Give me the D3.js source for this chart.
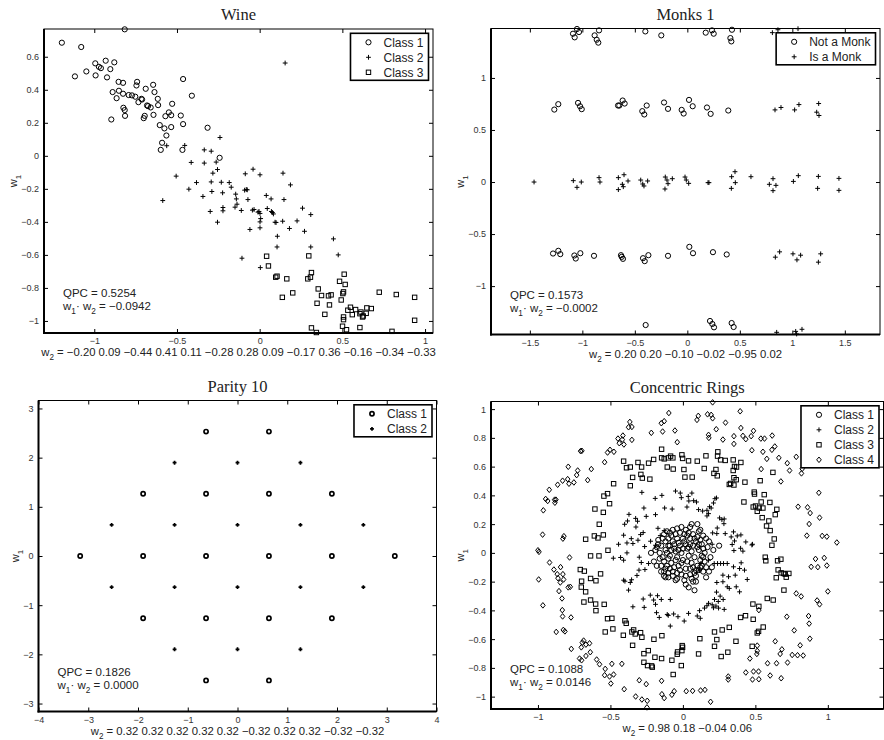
<!DOCTYPE html>
<html lang="en">
<head>
<meta charset="utf-8">
<title>Projection scatter panels</title>
<script src="https://d3js.org/d3.v7.min.js"></script>
<style>
  body { margin: 0; background: #fff; }
</style>
</head>
<body>
<svg id="fig" width="884" height="740"></svg>
<script>
// ---------- Wine ----------
var wineClass1 = [[-1.196,0.685],[-1.079,0.659],[-0.816,0.766],[-1.117,0.481],[-1.048,0.511],[-0.994,0.560],[-0.992,0.487],[-0.972,0.539],[-0.960,0.531],[-0.931,0.576],[-0.923,0.475],[-0.903,0.525],[-0.879,0.566],[-0.897,0.220],[-0.889,0.386],[-0.865,0.349],[-0.853,0.448],[-0.851,0.394],[-0.826,0.442],[-0.826,0.376],[-0.824,0.291],[-0.816,0.277],[-0.814,0.242],[-0.792,0.368],[-0.772,0.366],[-0.752,0.358],[-0.741,0.448],[-0.745,0.426],[-0.733,0.325],[-0.715,0.345],[-0.711,0.341],[-0.701,0.228],[-0.695,0.242],[-0.689,0.406],[-0.681,0.305],[-0.675,0.301],[-0.659,0.293],[-0.644,0.430],[-0.636,0.386],[-0.642,0.248],[-0.616,0.345],[-0.614,0.307],[-0.604,0.186],[-0.590,0.079],[-0.598,0.036],[-0.576,0.166],[-0.570,0.240],[-0.564,0.123],[-0.549,0.263],[-0.535,0.246],[-0.535,0.174],[-0.529,0.315],[-0.477,0.244],[-0.467,0.036],[-0.463,0.465],[-0.463,0.192],[-0.410,0.364],[-0.315,0.170],[-0.242,-0.012]];
var wineClass2 = [[0.154,0.562],[-0.240,0.111],[-0.562,0.061],[-0.453,0.063],[-0.335,0.036],[-0.293,0.028],[-0.505,-0.123],[-0.414,-0.040],[-0.335,-0.044],[-0.263,-0.038],[-0.255,-0.083],[-0.283,-0.105],[-0.428,-0.202],[-0.382,-0.162],[-0.343,-0.246],[-0.299,-0.337],[-0.293,-0.158],[-0.289,-0.216],[-0.255,-0.402],[-0.232,-0.160],[-0.224,-0.224],[-0.222,-0.313],[-0.222,-0.333],[-0.184,-0.162],[-0.172,-0.190],[-0.586,-0.271],[-0.149,-0.311],[-0.145,-0.232],[-0.141,-0.261],[-0.137,-0.293],[-0.111,-0.331],[-0.107,-0.620],[-0.087,-0.109],[-0.081,-0.204],[-0.075,-0.206],[-0.071,-0.265],[-0.059,-0.446],[-0.040,-0.081],[-0.044,-0.329],[-0.010,-0.341],[0.002,-0.115],[0.002,-0.349],[0.006,-0.380],[0.002,-0.400],[0.002,-0.436],[0.004,-0.677],[0.040,-0.240],[0.046,-0.319],[0.069,-0.261],[0.071,-0.337],[0.083,-0.352],[0.093,-0.402],[0.099,-0.404],[0.107,-0.487],[0.105,-0.552],[0.139,-0.396],[0.141,-0.105],[0.147,-0.265],[0.180,-0.440],[0.186,-0.176],[0.226,-0.394],[0.259,-0.317],[0.271,-0.457],[0.309,-0.356],[0.309,-0.552],[0.446,-0.503],[0.475,-0.600],[-0.004,-0.337],[-0.034,-0.325],[0.077,-0.343],[-0.091,-0.208]];
var wineClass3 = [[0.042,-0.608],[0.053,-0.667],[0.097,-0.735],[0.105,-0.729],[0.137,-0.857],[0.164,-0.745],[0.200,-0.830],[0.291,-0.745],[0.297,-0.606],[0.307,-0.735],[0.313,-0.707],[0.313,-1.042],[0.343,-1.070],[0.347,-0.893],[0.354,-0.806],[0.374,-0.846],[0.394,-0.960],[0.416,-0.848],[0.422,-0.903],[0.432,-0.842],[0.483,-0.760],[0.493,-0.873],[0.501,-1.032],[0.503,-0.834],[0.507,-0.824],[0.507,-0.976],[0.507,-0.992],[0.511,-0.717],[0.517,-0.779],[0.525,-1.053],[0.533,-0.935],[0.549,-0.917],[0.560,-0.962],[0.580,-0.931],[0.606,-0.956],[0.606,-1.040],[0.612,-0.946],[0.622,-0.976],[0.626,-0.970],[0.644,-0.954],[0.648,-0.921],[0.675,-0.925],[0.723,-0.826],[0.800,-1.063],[0.826,-0.840],[0.937,-0.996],[0.937,-0.857]];
var wineXTicks = [-1, -0.5, 0, 0.5, 1];
var wineYTicks = [-1, -0.8, -0.6, -0.4, -0.2, 0, 0.2, 0.4, 0.6];
var wineW2 = [-0.20, 0.09, -0.44, 0.41, 0.11, -0.28, 0.28, 0.09, -0.17, 0.36, -0.16, -0.34, -0.33];

// ---------- Monks 1 ----------
var monksNot = [[-1.051,1.470],[-1.089,1.425],[-1.073,1.390],[-1.032,1.441],[-0.883,1.409],[-0.863,1.367],[-0.848,1.339],[-0.841,1.457],[-0.400,1.447],[-0.248,1.409],[0.175,1.435],[0.235,1.457],[0.251,1.425],[0.410,1.383],[0.419,1.351],[0.425,1.463],
  [-1.267,0.696],[-1.229,0.748],[-1.041,0.760],[-1.022,0.728],[-1.006,0.700],[-0.660,0.735],[-0.648,0.735],[-0.616,0.783],[-0.597,0.754],[-0.429,0.681],[-0.410,0.649],[-0.387,0.735],[-0.222,0.764],[-0.184,0.703],[-0.054,0.693],[-0.035,0.658],[0.016,0.789],[0.051,0.728],[0.187,0.716],[0.222,0.655],[0.390,0.687],
  [-1.279,-0.687],[-1.229,-0.661],[-1.210,-0.693],[-1.076,-0.706],[-1.063,-0.735],[-1.019,-0.684],[-0.889,-0.709],[-0.632,-0.703],[-0.625,-0.719],[-0.613,-0.738],[-0.422,-0.732],[-0.406,-0.760],[-0.371,-0.703],[-0.184,-0.709],[0.019,-0.623],[0.054,-0.684],[0.244,-0.674],[0.375,-0.696],
  [-0.397,-1.374],[0.216,-1.335],[0.238,-1.364],[0.254,-1.396],[0.422,-1.355],[0.441,-1.393]];
var monksIs = [[0.810,1.435],[0.863,1.463],[1.054,1.473],
  [0.835,0.693],[0.892,0.716],[1.022,0.693],[1.063,0.744],[1.251,0.754],[1.232,0.671],[1.254,0.639],
  [-1.460,0],[-1.086,0.013],[-1.051,-0.051],[-1.010,0],[-0.841,0.042],[-0.832,0],[-0.657,0.042],[-0.657,-0.073],[-0.603,0.070],[-0.619,-0.022],[-0.610,-0.045],[-0.565,0.010],[-0.444,0.019],[-0.425,-0.019],[-0.413,-0.038],[-0.378,0.010],[-0.210,0.048],[-0.213,-0.067],[-0.194,0.019],[-0.184,-0.016],[-0.143,0.032],[-0.022,0.048],[-0.010,0.019],[0.013,-0.013],[0.197,-0.006],[0.206,-0.006],[0.422,0.051],[0.454,0.099],[0.419,-0.061],[0.457,-0.006],[0.606,0.051],[0.781,-0.022],[0.816,0.032],[0.844,-0.032],[0.816,-0.083],[1.010,0.006],[1.057,0.061],[1.248,0.054],[1.241,-0.061],[1.444,0.035],[1.444,-0.080],
  [0.838,-0.722],[0.879,-0.671],[1.006,-0.690],[1.044,-0.748],[1.079,-0.703],[1.248,-0.770],[1.270,-0.690],
  [0.851,-1.444],[1.032,-1.435],[1.041,-1.460],[1.092,-1.415]];
var monksXTicks = [-1.5, -1, -0.5, 0, 0.5, 1, 1.5];
var monksYTicks = [-1, -0.5, 0, 0.5, 1];
var monksW2 = [0.20, 0.20, -0.10, -0.02, -0.95, 0.02];

// ---------- Parity 10 ----------
var parityClass1 = [[-0.632,2.530],[0.632,2.530],[-1.897,1.265],[-0.632,1.265],[0.632,1.265],[1.897,1.265],[-3.162,0],[-1.897,0],[-0.632,0],[0.632,0],[1.897,0],[3.162,0],[-1.897,-1.265],[-0.632,-1.265],[0.632,-1.265],[1.897,-1.265],[-0.632,-2.530],[0.632,-2.530]];
var parityClass2 = [[-1.265,1.897],[0,1.897],[1.265,1.897],[-2.530,0.632],[-1.265,0.632],[0,0.632],[1.265,0.632],[2.530,0.632],[-2.530,-0.632],[-1.265,-0.632],[0,-0.632],[1.265,-0.632],[2.530,-0.632],[-1.265,-1.897],[0,-1.897],[1.265,-1.897]];
var parityXTicks = [-4, -3, -2, -1, 0, 1, 2, 3, 4];
var parityYTicks = [-3, -2, -1, 0, 1, 2, 3];
var parityW2 = [0.32, 0.32, 0.32, 0.32, 0.32, -0.32, 0.32, 0.32, -0.32, -0.32];

// ---------- Concentric Rings ----------
var ringsClass1 = [[-0.22,0.0],[-0.16,0.0],[-0.15,-0.13],[-0.13,-0.13],[-0.13,-0.16],[-0.12,-0.17],[-0.10,-0.17],[-0.05,-0.19],[-0.04,-0.18],[0.02,-0.22],[0.04,-0.24],[0.08,-0.26],[0.09,-0.20],[0.07,-0.20],[0.16,-0.17],[0.18,-0.13],[0.20,-0.10],[0.25,0.05],[0.14,0.12],[0.10,0.20],[0.06,0.20],[-0.01,0.18],[-0.04,0.17],[-0.07,0.16],[-0.11,0.15],[-0.13,0.13],[-0.17,0.09],[-0.18,0.04],[-0.19,0.02],
  [-0.12,0.08],[-0.10,0.10],[-0.08,0.12],[-0.05,0.13],[-0.02,0.14],[0.01,0.13],[0.04,0.14],[0.07,0.13],[0.10,0.11],[0.12,0.09],[0.13,0.06],[0.14,0.03],[0.15,0.0],[0.14,-0.03],[0.15,-0.06],[0.13,-0.09],[0.11,-0.12],[0.08,-0.14],[0.05,-0.15],[0.02,-0.16],[-0.01,-0.15],[-0.04,-0.14],[-0.07,-0.13],[-0.09,-0.11],[-0.11,-0.09],[-0.13,-0.06],[-0.14,-0.03],[-0.12,0.02],[-0.10,0.05],[-0.09,-0.02],[-0.07,0.08],[-0.06,0.03],[-0.05,-0.05],[-0.04,0.10],[-0.03,-0.09],[-0.02,0.05],[-0.01,0.0],[0.0,-0.05],[0.01,0.08],[0.02,-0.11],[0.03,0.03],[0.04,-0.02],[0.05,0.10],[0.06,-0.07],[0.07,0.05],[0.08,-0.03],[0.09,0.08],[0.10,-0.09],[0.11,0.02],[0.12,-0.05],[-0.08,-0.07],[-0.11,0.0],[0.0,0.10],[0.03,0.12],[-0.03,0.07],[0.06,0.01],[-0.06,-0.10],[0.09,-0.12],[-0.15,0.05],[0.17,0.04],[0.02,0.06],[-0.05,0.01],[0.05,-0.11],[0.10,0.04],[-0.10,-0.04],[0.13,-0.02],
  [-0.20,-0.06],[-0.18,-0.09],[-0.16,-0.04],[-0.17,0.06],[-0.14,0.10],[-0.09,0.14],[-0.06,0.06],[-0.03,0.02],[0.0,0.03],[0.03,-0.06],[0.05,0.06],[0.08,0.10],[0.11,0.06],[0.12,-0.10],[0.09,-0.16],[0.06,-0.18],[0.01,-0.19],[-0.02,-0.12],[-0.07,-0.16],[-0.10,-0.14],[-0.12,-0.11],[-0.08,0.02],[0.02,0.16],[0.16,-0.10],[0.18,0.08],[0.11,0.15],[-0.15,-0.09],[-0.01,-0.07],[0.07,-0.10],[0.04,0.04],[-0.04,-0.03],[0.14,-0.13],[0.19,-0.03],[0.21,0.02],[0.16,0.10],[0.12,0.16],[0.05,0.18],[-0.09,0.05]];
var ringsClass2 = [[-0.283,0.421],[-0.191,0.379],[-0.145,0.400],[-0.051,0.430],[-0.018,0.416],[-0.011,0.384],[0.037,0.393],[0.062,0.416],[0.041,0.361],[0.028,0.319],[0.074,0.363],[0.094,0.354],[0.108,0.301],[0.136,0.291],[0.166,0.296],[0.184,0.321],[0.221,0.377],[0.232,0.382],[0.211,0.347],[0.195,0.312],[0.177,0.273],[0.166,0.257],[-0.269,0.312],[-0.253,0.254],[-0.189,0.266],[-0.126,0.312],[-0.074,0.305],[-0.372,0.268],[-0.382,0.222],[-0.402,0.199],[-0.409,0.123],[-0.326,0.240],[-0.324,0.180],[-0.313,0.220],[-0.292,0.127],[-0.274,0.141],[-0.310,0.088],[-0.356,0.099],[-0.345,0.065],[-0.386,0.069],[-0.444,0.060],[-0.480,-0.037],[-0.430,-0.032],[-0.409,-0.051],[-0.386,0.0],[-0.301,-0.030],[-0.264,0.044],[-0.223,0.081],[-0.189,0.053],[-0.172,0.171],[-0.156,0.120],[-0.129,0.155],[-0.287,-0.067],[-0.237,-0.074],[-0.262,-0.116],[-0.303,-0.120],[-0.317,-0.157],[-0.354,-0.187],[-0.363,-0.206],[-0.375,-0.259],[-0.409,-0.190],[-0.400,-0.197],[-0.274,-0.321],[-0.225,-0.294],[-0.202,-0.328],[-0.175,-0.298],[-0.149,-0.324],[-0.087,-0.324],[-0.189,-0.358],[-0.267,-0.379],[-0.345,-0.375],[-0.182,-0.416],[-0.163,-0.449],[-0.108,-0.428],[-0.101,-0.435],[-0.087,-0.509],[-0.064,-0.425],[-0.034,-0.444],[0.009,-0.474],[0.039,-0.421],[0.099,-0.439],[0.120,-0.455],[0.115,-0.402],[0.149,-0.384],[0.166,-0.368],[0.177,-0.351],[0.202,-0.361],[0.211,-0.382],[0.228,-0.370],[0.246,-0.384],[0.218,-0.324],[0.244,-0.338],[0.257,-0.301],[0.278,-0.324],[0.285,-0.393],[0.232,-0.273],[0.306,-0.236],[0.320,-0.247],[0.368,-0.236],[0.391,-0.271],[0.391,-0.109],[0.349,-0.097],[0.361,-0.155],[0.402,-0.069],[0.425,-0.120],[0.414,0.012],[0.476,0.055],[0.434,0.076],[0.398,0.032],[0.352,0.016],[0.340,0.058],[0.356,0.083],[0.333,0.111],[0.375,0.118],[0.400,0.125],[0.349,0.146],[0.292,0.134],[0.285,0.236],[0.269,0.231],[0.253,0.243],[0.283,0.203],[0.237,0.173],[0.234,0.134],[0.205,0.139],[0.202,0.060],[0.216,-0.074],[0.239,-0.074],[0.260,-0.074],[0.280,-0.074],[0.306,-0.074],[0.234,-0.206],[0.276,-0.201],[0.315,-0.166],[0.276,-0.155],[0.444,-0.185],[0.480,0.060],[0.124,-0.074],[0.115,-0.120],[0.177,-0.051]];
var ringsClass3 = [[-0.147,0.721],[-0.147,0.661],[-0.129,0.654],[-0.101,0.661],[-0.085,0.673],[-0.069,0.661],[-0.007,0.682],[-0.002,0.657],[0.039,0.640],[0.099,0.638],[0.159,0.675],[0.241,0.703],[0.239,0.673],[0.260,0.647],[0.292,0.643],[0.347,0.647],[0.356,0.601],[0.370,0.597],[0.400,0.629],[0.347,0.573],[0.352,0.523],[0.368,0.509],[0.329,0.483],[0.320,0.476],[0.352,0.472],[0.228,0.580],[0.214,0.553],[0.237,0.536],[0.064,0.527],[0.014,0.527],[-0.067,0.583],[-0.108,0.597],[0.007,0.580],[0.147,0.587],[-0.202,0.650],[-0.237,0.624],[-0.285,0.597],[-0.310,0.629],[-0.363,0.597],[-0.389,0.592],[-0.409,0.638],[-0.347,0.525],[-0.290,0.546],[-0.280,0.520],[-0.228,0.513],[-0.363,0.467],[-0.478,0.481],[-0.545,0.395],[-0.520,0.412],[-0.506,0.342],[-0.549,0.282],[-0.607,0.305],[-0.577,0.199],[-0.611,0.118],[-0.586,0.104],[-0.549,0.125],[-0.671,0.095],[-0.517,0.018],[-0.579,-0.021],[-0.637,-0.021],[-0.708,-0.116],[-0.680,-0.127],[-0.699,-0.197],[-0.701,-0.238],[-0.637,-0.178],[-0.671,-0.271],[-0.683,-0.342],[-0.637,-0.328],[-0.600,-0.402],[-0.600,-0.194],[-0.568,-0.146],[-0.602,-0.356],[-0.543,-0.358],[-0.520,-0.458],[-0.490,-0.455],[-0.536,-0.550],[-0.483,-0.529],[-0.400,-0.472],[-0.411,-0.573],[-0.391,-0.490],[-0.352,-0.550],[-0.340,-0.536],[-0.347,-0.643],[-0.329,-0.564],[-0.292,-0.555],[-0.283,-0.587],[-0.200,-0.601],[-0.145,-0.576],[-0.239,-0.680],[-0.269,-0.701],[-0.193,-0.726],[-0.211,-0.795],[-0.269,-0.761],[-0.244,-0.784],[-0.216,-0.786],[-0.147,-0.735],[-0.076,-0.747],[-0.039,-0.705],[-0.037,-0.689],[-0.005,-0.645],[-0.002,-0.657],[-0.007,-0.680],[-0.067,-0.846],[-0.011,-0.784],[0.108,-0.703],[0.117,-0.597],[0.218,-0.550],[0.271,-0.536],[0.320,-0.518],[0.366,-0.615],[0.398,-0.449],[0.432,-0.437],[0.218,-0.650],[0.234,-0.603],[0.264,-0.721],[0.310,-0.691],[0.485,-0.462],[0.478,-0.650],[0.513,-0.557],[0.522,-0.546],[0.554,-0.516],[0.483,-0.356],[0.524,-0.372],[0.582,-0.317],[0.623,-0.328],[0.697,-0.259],[0.694,-0.143],[0.731,-0.143],[0.678,-0.139],[0.706,-0.148],[0.657,-0.118],[0.653,-0.055],[0.676,-0.044],[0.572,-0.055],[0.568,-0.030],[0.614,0.053],[0.630,0.097],[0.602,0.155],[0.577,0.187],[0.526,0.312],[0.513,0.289],[0.501,0.326],[0.552,0.312],[0.600,0.351],[0.648,0.303],[0.637,0.266],[0.547,0.245],[0.494,0.409],[0.561,0.405],[0.540,0.354],[0.492,0.423],[0.428,0.492],[0.421,0.354],[0.533,0.502],[0.621,0.560],[0.485,0.319],[0.593,0.222],[0.713,-0.169],[0.644,-0.173]];
var ringsClass4 = [[0.205,1.047],[-0.097,0.973],[0.106,0.953],[0.097,0.925],[0.170,0.964],[0.195,0.960],[0.205,0.936],[0.395,0.985],[0.294,0.906],[0.230,0.860],[0.352,0.812],[0.414,0.814],[0.434,0.791],[0.471,0.812],[0.400,0.869],[0.487,0.849],[0.538,0.795],[0.563,0.795],[0.616,0.816],[0.276,0.788],[0.352,0.758],[0.177,0.821],[0.179,0.800],[-0.039,0.770],[-0.055,0.851],[-0.129,0.916],[-0.149,0.902],[-0.140,0.844],[-0.218,0.835],[-0.352,0.786],[-0.375,0.874],[-0.366,0.911],[-0.352,0.876],[-0.414,0.816],[-0.418,0.788],[-0.448,0.795],[-0.439,0.763],[-0.407,0.754],[-0.476,0.703],[-0.503,0.717],[-0.520,0.698],[-0.540,0.631],[-0.632,0.583],[-0.726,0.573],[-0.733,0.541],[-0.791,0.599],[-0.830,0.502],[-0.795,0.513],[-0.786,0.481],[-0.864,0.474],[-0.752,0.490],[-0.922,0.439],[-0.947,0.375],[-0.963,0.296],[-0.933,0.361],[-0.883,0.349],[-0.885,0.370],[-0.876,0.370],[-0.697,0.710],[-0.706,0.708],[-0.657,0.506],[0.552,0.703],[0.579,0.654],[0.614,0.717],[0.634,0.740],[0.662,0.661],[0.676,0.497],[0.720,0.624],[0.736,0.573],[0.782,0.668],[0.818,0.553],[0.823,0.585],[0.476,0.714],[0.540,0.583],
  [0.938,0.418],[0.795,0.321],[0.860,0.317],[0.878,0.277],[0.943,0.245],[0.871,0.201],[0.855,0.120],[0.961,0.118],[0.993,0.113],[1.062,0.072],[0.915,-0.042],[0.975,-0.035],[0.885,-0.097],[0.931,-0.099],[0.993,-0.088],[1.000,-0.268],[0.926,-0.331],[0.943,-0.358],[0.816,-0.303],[0.782,-0.282],[0.717,-0.444],[0.867,-0.439],[0.871,-0.492],[0.876,-0.597],[0.809,-0.643],[0.768,-0.539],[0.754,-0.710],[0.830,-0.714],[0.791,-0.712],[0.722,-0.763],[0.671,-0.703],[0.678,-0.872],[0.683,-0.671],[0.637,-0.615],[0.646,-0.768],[0.584,-0.768],[0.602,-0.853],[0.522,-0.825],[0.487,-0.825],[0.480,-0.881],[0.434,-0.832],[0.524,-0.879],[0.513,-0.682],[0.510,-0.703],[0.513,-0.645],[0.524,-0.398],[0.462,-0.735],
  [-0.968,0.127],[-1.000,0.018],[-0.993,0.007],[-0.995,-0.185],[-0.966,-0.365],[-0.920,-0.067],[-0.890,-0.116],[-0.867,-0.148],[-0.844,-0.099],[-0.862,-0.176],[-0.846,-0.206],[-0.855,-0.266],[-0.821,0.116],[-0.828,0.099],[-0.828,-0.148],[-0.823,-0.185],[-0.834,-0.317],[-0.832,-0.398],[-0.830,-0.442],[-0.782,-0.032],[-0.777,-0.236],[-0.772,-0.449],[-0.791,-0.240],[-0.825,-0.536],[-0.814,-0.546],[-0.874,-0.550],[-0.770,-0.668],[-0.701,-0.657],[-0.685,-0.610],[-0.669,-0.638],[-0.694,-0.624],[-0.644,-0.629],[-0.639,-0.691],[-0.669,-0.717],[-0.699,-0.747],[-0.713,-0.735],[-0.595,-0.742],[-0.575,-0.775],[-0.536,-0.807],[-0.540,-0.851],[-0.506,-0.860],[-0.490,-0.772],[-0.478,-0.846],[-0.497,-0.909],[-0.421,-0.772],[-0.405,-0.948],[-0.326,-0.999],[-0.283,-1.020],[-0.246,-1.029],[-0.248,-1.075],[-0.301,-0.886],[-0.253,-0.913],[-0.147,-0.890],[-0.145,-0.983],[-0.129,-1.010],[-0.076,-0.987],[-0.060,-0.962],[0.023,-0.962],[0.067,-0.960],[0.122,-0.957],[0.152,-0.953],[0.191,-1.036],[0.313,-0.860],[0.313,-0.881]];
var ringsXTicks = [-1, -0.5, 0, 0.5, 1];
var ringsYTicks = [-1, -0.8, -0.6, -0.4, -0.2, 0, 0.2, 0.4, 0.6, 0.8, 1];
var ringsW2 = [0.98, 0.18, -0.04, 0.06];

// panel layout (pixel frame + axis limits)
var panels = [
  { title: "Wine", left: 44, right: 433, top: 29, bottom: 333,
    xDomain: [-1.304, 1.048], yDomain: [-1.073, 0.768], xTicks: wineXTicks, yTicks: wineYTicks,
    series: [{ label: "Class 1", sym: "circle", pts: wineClass1 }, { label: "Class 2", sym: "plus", pts: wineClass2 }, { label: "Class 3", sym: "square", pts: wineClass3 }],
    w2: wineW2, qpc: 0.5254, dot: -0.0942, sw: 1, ms: 1 },
  { title: "Monks 1", left: 491, right: 880, top: 28.5, bottom: 334.5,
    xDomain: [-1.87, 1.835], yDomain: [-1.465, 1.475], xTicks: monksXTicks, yTicks: monksYTicks,
    series: [{ label: "Not a Monk", sym: "circle", pts: monksNot }, { label: "Is a Monk", sym: "plus", pts: monksIs }],
    w2: monksW2, qpc: 0.1573, dot: -0.0002, sw: 1, ms: 1 },
  { title: "Parity 10", left: 38.5, right: 436.5, top: 400.5, bottom: 711.5,
    xDomain: [-4, 4], yDomain: [-3.162, 3.162], xTicks: parityXTicks, yTicks: parityYTicks,
    series: [{ label: "Class 1", sym: "circle", pts: parityClass1 }, { label: "Class 2", sym: "plus", pts: parityClass2 }],
    w2: parityW2, qpc: 0.1826, dot: 0.0000, sw: 1.7, ms: 0.8 },
  { title: "Concentric Rings", left: 491, right: 883.5, top: 401.5, bottom: 709,
    xDomain: [-1.324, 1.384], yDomain: [-1.086, 1.053], xTicks: ringsXTicks, yTicks: ringsYTicks,
    series: [{ label: "Class 1", sym: "circle", pts: ringsClass1 }, { label: "Class 2", sym: "plus", pts: ringsClass2 }, { label: "Class 3", sym: "square", pts: ringsClass3 }, { label: "Class 4", sym: "diamond", pts: ringsClass4 }],
    w2: ringsW2, qpc: 0.1088, dot: 0.0146, sw: 1, ms: 1 }
];

var SANS = "'Liberation Sans', Arial, Helvetica, sans-serif";
var SERIF = "'Liberation Serif', 'Times New Roman', Times, serif";

var svg = d3.select("#fig").style("font-family", SANS);
var tickFmt = d3.format("~g");
var f2 = d3.format(".2f"), f4 = d3.format(".4f");

function drawMarker(g, sym, cx, cy, k) {
  k = k || 1;
  if (sym === "circle") {
    g.append("circle").attr("cx", cx).attr("cy", cy).attr("r", 2.6 * k);
  } else if (sym === "plus") {
    var a = 2.4 * k;
    g.append("path").attr("d", "M" + (cx - a) + "," + cy + "H" + (cx + a) + "M" + cx + "," + (cy - a) + "V" + (cy + a));
  } else if (sym === "square") {
    var h = 2.2 * k;
    g.append("rect").attr("x", cx - h).attr("y", cy - h).attr("width", 2 * h).attr("height", 2 * h);
  } else if (sym === "diamond") {
    var dv = 2.8 * k, dh = 2.3 * k;
    g.append("path").attr("d", "M" + cx + "," + (cy - dv) + "L" + (cx + dh) + "," + cy + "L" + cx + "," + (cy + dv) + "L" + (cx - dh) + "," + cy + "Z");
  }
}

// text with subscripts: parts = [[string, isSub], ...]
function subText(t, parts, fs) {
  var shift = 0;
  parts.forEach(function(p) {
    var ts = t.append("tspan").text(p[0]);
    if (p[1]) { ts.attr("font-size", fs * 0.72).attr("dy", 4 - shift); shift = 4; }
    else { ts.attr("dy", -shift); shift = 0; }
  });
}

panels.forEach(function(p) {
  var g = svg.append("g");
  var x = d3.scaleLinear().domain(p.xDomain).range([p.left, p.right]);
  var y = d3.scaleLinear().domain(p.yDomain).range([p.bottom, p.top]);

  // data
  p.series.forEach(function(s) {
    var sg = g.append("g").attr("fill", "none").attr("stroke", "#000").attr("stroke-width", p.sw);
    s.pts.forEach(function(d) { drawMarker(sg, s.sym, x(d[0]), y(d[1]), p.ms); });
  });

  // axes, ticks inward on all sides
  function styleAxis(a) {
    a.select(".domain").remove();
    a.attr("font-size", 9).attr("font-family", null);
    a.selectAll("text").attr("fill", "#333");
  }
  var axB = g.append("g").attr("transform", "translate(0," + p.bottom + ")")
    .call(d3.axisBottom(x).tickValues(p.xTicks).tickFormat(tickFmt).tickSizeInner(-4).tickSizeOuter(0).tickPadding(5));
  styleAxis(axB);
  var axL = g.append("g").attr("transform", "translate(" + p.left + ",0)")
    .call(d3.axisLeft(y).tickValues(p.yTicks).tickFormat(tickFmt).tickSizeInner(-4).tickSizeOuter(0).tickPadding(5));
  styleAxis(axL);
  var axT = g.append("g").attr("transform", "translate(0," + p.top + ")")
    .call(d3.axisTop(x).tickValues(p.xTicks).tickFormat("").tickSizeInner(-4).tickSizeOuter(0));
  styleAxis(axT);
  var axR = g.append("g").attr("transform", "translate(" + p.right + ",0)")
    .call(d3.axisRight(y).tickValues(p.yTicks).tickFormat("").tickSizeInner(-4).tickSizeOuter(0));
  styleAxis(axR);

  // frame: thin box, heavy left/bottom
  g.append("rect").attr("x", p.left).attr("y", p.top).attr("width", p.right - p.left).attr("height", p.bottom - p.top)
    .attr("fill", "none").attr("stroke", "#000").attr("stroke-width", 1);
  g.append("line").attr("x1", p.left).attr("x2", p.left).attr("y1", p.top).attr("y2", p.bottom + 1).attr("stroke", "#000").attr("stroke-width", 2);
  g.append("line").attr("x1", p.left - 1).attr("x2", p.right).attr("y1", p.bottom).attr("y2", p.bottom).attr("stroke", "#000").attr("stroke-width", 2);

  var cx = (p.left + p.right) / 2;
  // title
  g.append("text").attr("x", cx).attr("y", p.top - 9).attr("text-anchor", "middle")
    .style("font-family", SERIF).attr("font-size", 16.5).attr("fill", "#222")
    .text(p.title);

  // y label, left of the tick labels
  var bb = axL.node().getBBox();
  var ly = (p.top + p.bottom) / 2;
  var yl = g.append("text").attr("transform", "translate(" + (p.left + bb.x - 4) + "," + ly + ") rotate(-90)")
    .attr("text-anchor", "middle").attr("font-size", 11).attr("fill", "#222");
  subText(yl, [["w", 0], ["1", 1]], 11);

  // x label with w2 weights
  var xl = g.append("text").attr("x", cx).attr("y", p.bottom + 23).attr("text-anchor", "middle")
    .attr("font-size", 11.3).attr("fill", "#222");
  subText(xl, [["w", 0], ["2", 1], [" = " + p.w2.map(f2).join(" "), 0]], 11.3);

  // QPC annotation
  g.append("text").attr("x", p.left + 19).attr("y", p.bottom - 36).attr("font-size", 11.5).attr("fill", "#222")
    .text("QPC = " + f4(p.qpc));
  var dt = g.append("text").attr("x", p.left + 19).attr("y", p.bottom - 23).attr("font-size", 11.5).attr("fill", "#222");
  subText(dt, [["w", 0], ["1", 1], ["\u00b7 w", 0], ["2", 1], [" = " + f4(p.dot), 0]], 11.5);

  // legend
  var lg = g.append("g");
  var box = lg.append("rect").attr("fill", "#fff").attr("stroke", "#000").attr("stroke-width", 1.6);
  var maxW = 0;
  var items = [];
  p.series.forEach(function(s) {
    var t = lg.append("text").attr("font-size", 12).attr("fill", "#222").text(s.label);
    maxW = Math.max(maxW, t.node().getComputedTextLength());
    items.push(t);
  });
  var bw = 33 + maxW + 5, bh = p.series.length * 15 + 2;
  var bx = p.right - 4.5 - bw, by = p.top + 4.3;
  box.attr("x", bx).attr("y", by).attr("width", bw).attr("height", bh);
  var mg = lg.append("g").attr("fill", "none").attr("stroke", "#000").attr("stroke-width", p.sw);
  p.series.forEach(function(s, i) {
    var yy = by + 9 + i * 15;
    drawMarker(mg, s.sym, bx + 18, yy, p.ms);
    items[i].attr("x", bx + 33).attr("y", yy + 4.3);
  });
});
</script>
</body>
</html>
